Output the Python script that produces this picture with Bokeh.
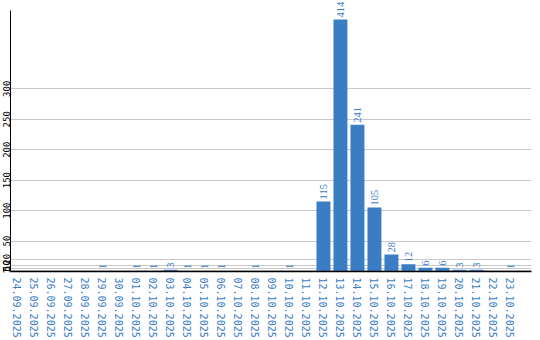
from bokeh.plotting import figure
from bokeh.models import ColumnDataSource, Range1d, FixedTicker, LabelSet
from bokeh.embed import file_html
from bokeh.resources import INLINE
import math

dates = ["24.09.2025", "25.09.2025", "26.09.2025", "27.09.2025", "28.09.2025",
         "29.09.2025", "30.09.2025", "01.10.2025", "02.10.2025", "03.10.2025",
         "04.10.2025", "05.10.2025", "06.10.2025", "07.10.2025", "08.10.2025",
         "09.10.2025", "10.10.2025", "11.10.2025", "12.10.2025", "13.10.2025",
         "14.10.2025", "15.10.2025", "16.10.2025", "17.10.2025", "18.10.2025",
         "19.10.2025", "20.10.2025", "21.10.2025", "22.10.2025", "23.10.2025"]
counts = [0, 0, 0, 0, 0, 1, 0, 1, 1, 3,
          1, 1, 1, 0, 1, 0, 1, 0, 115, 414,
          241, 105, 28, 12, 6, 6, 3, 3, 0, 1]
y_ticks = [1, 5, 10, 20, 50, 100, 150, 200, 250, 300]

BLUE = "#3b7dc4"
FONT = "DejaVu Sans Mono"

xs = list(range(len(dates)))
src = ColumnDataSource(dict(x=xs, top=counts))
lab_idx = [i for i, c in enumerate(counts) if c > 0]
lab_src = ColumnDataSource(dict(x=[xs[i] for i in lab_idx],
                                y=[counts[i] for i in lab_idx],
                                t=[str(counts[i]) for i in lab_idx]))

Y_TOP = 429
p = figure(width=540, height=340, output_backend="svg", toolbar_location=None,
           x_range=Range1d(-0.41, 30.24), y_range=Range1d(0, 445),
           min_border_left=0, min_border_right=9, min_border_top=0,
           min_border_bottom=0)
p.outline_line_color = None
p.background_fill_color = "white"

p.vbar(x="x", top="top", width=0.82, source=src, fill_color=BLUE,
       line_color=None)

labels = LabelSet(x="x", y="y", text="t", source=lab_src, angle=math.pi / 2,
                  text_align="left", text_baseline="middle", x_offset=0,
                  y_offset=2, text_font=FONT, text_font_size="10.5px",
                  text_color=BLUE)
p.add_layout(labels)

p.xgrid.grid_line_color = None
p.ygrid.grid_line_color = "#c8c8c8"
p.ygrid.ticker = FixedTicker(ticks=y_ticks)

p.xaxis.ticker = FixedTicker(ticks=xs)
p.xaxis.major_label_overrides = {i: d for i, d in zip(xs, dates)}
p.xaxis.major_label_orientation = "vertical"
p.xaxis.major_label_text_font = FONT
p.xaxis.major_label_text_font_size = "10px"
p.xaxis.major_label_text_color = BLUE
p.xaxis.major_tick_line_color = None
p.xaxis.minor_tick_line_color = None
p.xaxis.major_tick_out = 0
p.xaxis.major_tick_in = 0
p.xaxis.major_label_standoff = 6
p.xaxis.axis_line_color = "black"
p.xaxis.axis_line_width = 1.5

p.yaxis.ticker = FixedTicker(ticks=y_ticks)
p.yaxis.bounds = (0, Y_TOP)
p.yaxis.major_label_orientation = "vertical"
p.yaxis.major_label_text_font = FONT
p.yaxis.major_label_text_font_size = "9px"
p.yaxis.major_label_text_color = "black"
p.yaxis.major_tick_line_color = None
p.yaxis.minor_tick_line_color = None
p.yaxis.major_tick_out = 0
p.yaxis.major_tick_in = 0
p.yaxis.major_label_standoff = 0
p.yaxis.axis_line_color = "black"

open("out.html", "w").write(file_html(p, INLINE))
